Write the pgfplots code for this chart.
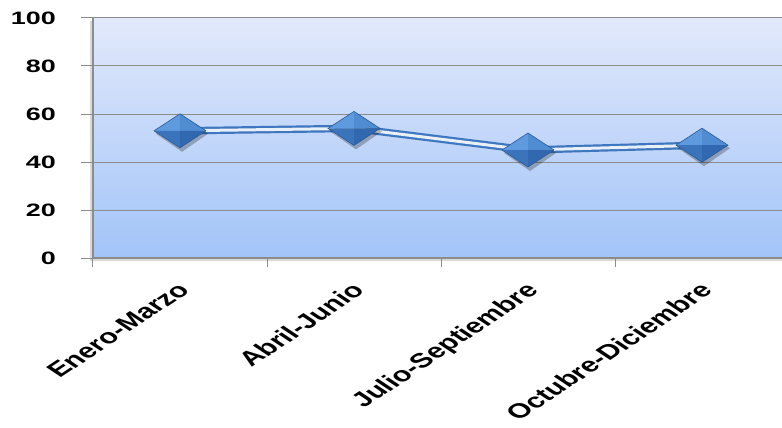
\documentclass[border=0pt]{standalone}
\usepackage{pgfplots}
\pgfplotsset{compat=1.18}
\usetikzlibrary{shadows}
\usepackage{fontspec}
\setmainfont{Liberation Sans}
\usepackage{graphicx}
\definecolor{bgtop}{RGB}{226,233,251}
\definecolor{bgbot}{RGB}{162,196,248}
\definecolor{linec}{RGB}{62,118,192}
\definecolor{dTL}{RGB}{96,154,222}
\definecolor{dTR}{RGB}{80,140,210}
\definecolor{dBL}{RGB}{60,116,188}
\definecolor{dBR}{RGB}{50,104,176}
\definecolor{dEdge}{RGB}{42,90,152}
\definecolor{gridc}{RGB}{140,140,140}
\pgfdeclareplotmark{dia}{%
  \pgfsetfillopacity{0.25}\pgfsetfillcolor{black}%
  \pgfpathmoveto{\pgfqpoint{-24bp}{-3bp}}\pgfpathlineto{\pgfqpoint{2bp}{14bp}}%
  \pgfpathlineto{\pgfqpoint{28bp}{-3bp}}\pgfpathlineto{\pgfqpoint{2bp}{-21bp}}\pgfpathclose\pgfusepath{fill}%
  \pgfsetfillopacity{1}%
  \pgfsetfillcolor{dTL}%
  \pgfpathmoveto{\pgfqpoint{0bp}{0bp}}\pgfpathlineto{\pgfqpoint{-26bp}{0bp}}\pgfpathlineto{\pgfqpoint{0bp}{17bp}}\pgfpathclose\pgfusepath{fill}%
  \pgfsetfillcolor{dTR}%
  \pgfpathmoveto{\pgfqpoint{0bp}{0bp}}\pgfpathlineto{\pgfqpoint{0bp}{17bp}}\pgfpathlineto{\pgfqpoint{26bp}{0bp}}\pgfpathclose\pgfusepath{fill}%
  \pgfsetfillcolor{dBL}%
  \pgfpathmoveto{\pgfqpoint{0bp}{0bp}}\pgfpathlineto{\pgfqpoint{-26bp}{0bp}}\pgfpathlineto{\pgfqpoint{0bp}{-17bp}}\pgfpathclose\pgfusepath{fill}%
  \pgfsetfillcolor{dBR}%
  \pgfpathmoveto{\pgfqpoint{0bp}{0bp}}\pgfpathlineto{\pgfqpoint{26bp}{0bp}}\pgfpathlineto{\pgfqpoint{0bp}{-17bp}}\pgfpathclose\pgfusepath{fill}%
  \pgfsetstrokecolor{dEdge}\pgfsetlinewidth{0.6bp}%
  \pgfpathmoveto{\pgfqpoint{-26bp}{0bp}}\pgfpathlineto{\pgfqpoint{0bp}{17bp}}%
  \pgfpathlineto{\pgfqpoint{26bp}{0bp}}\pgfpathlineto{\pgfqpoint{0bp}{-17bp}}\pgfpathclose\pgfusepath{stroke}%
}
\pgfplotstableread{
x y
0 53
1 54
2 45
3 47
}\datatable
\begin{document}
\begin{tikzpicture}
\useasboundingbox (-93bp,-170bp) rectangle (689bp,258bp);
\begin{axis}[
  at={(0,0)}, anchor=south west,
  scale only axis, width=696bp, height=240bp,
  xmin=-0.5, xmax=3.5, ymin=0, ymax=100,
  ytick={0,20,...,100},
  xtick={0,1,2,3},
  xticklabels={Enero-Marzo,Abril-Junio,Julio-Septiembre,Octubre-Diciembre},
  minor xtick={-0.5,0.5,1.5,2.5,3.5},
  major x tick style={draw=none},
  tick align=outside,
  major tick length=12bp, minor tick length=9bp,
  ymajorgrids,
  grid style={gridc, line width=1bp},
  axis x line*=bottom, axis y line*=left,
  axis line style={gridc, line width=1.2bp, -},
  every tick/.style={gridc, line width=1bp},
  minor tick style={gridc, line width=1bp},
  axis background/.style={top color=bgtop, bottom color=bgbot,
    drop shadow={shadow xshift=-3bp, shadow yshift=-3bp, opacity=0.3}},
  yticklabel={\scalebox{1.5}[1]{\pgfmathprintnumber{\tick}}},
  /pgf/number format/assume math mode=true,
  yticklabel style={font=\fontsize{18}{20}\selectfont\bfseries, anchor=east, inner sep=0pt, xshift=-25bp},
  xticklabel style={font=\fontsize{20.5}{22}\selectfont\bfseries, xshift=-4bp, yshift=-11bp, xscale=1.5, rotate=45, anchor=north east, inner sep=0pt},
  clip=false,
]
\addplot[draw=linec, line width=2.2bp, double=white!88!linec, double distance=3bp] table[x=x,y=y] {\datatable};
\addplot[only marks, mark=dia] table[x=x,y=y] {\datatable};
\end{axis}
\end{tikzpicture}
\end{document}
